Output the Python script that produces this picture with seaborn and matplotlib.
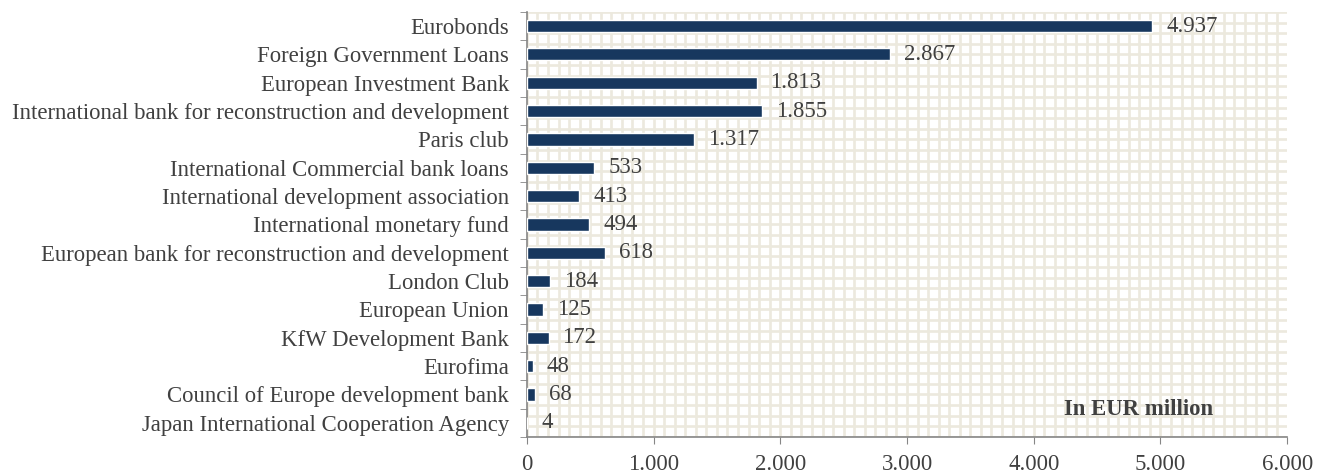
import numpy as np
import pandas as pd
import matplotlib
matplotlib.use("Agg")
import matplotlib.pyplot as plt
import seaborn as sns

# data (EUR million)
creditors = [
    "Eurobonds",
    "Foreign Government Loans",
    "European Investment Bank",
    "International bank for reconstruction and development",
    "Paris club",
    "International Commercial bank loans",
    "International development association",
    "International monetary fund",
    "European bank for reconstruction and development",
    "London Club",
    "European Union",
    "KfW Development Bank",
    "Eurofima",
    "Council of Europe development bank",
    "Japan International Cooperation Agency",
]
amounts = [4937, 2867, 1813, 1855, 1317, 533, 413, 494, 618, 184, 125, 172, 48, 68, 4]
x_ticks = [0, 1000, 2000, 3000, 4000, 5000, 6000]
x_tick_labels = ["0", "1.000", "2.000", "3.000", "4.000", "5.000", "6.000"]

df = pd.DataFrame({"creditor": creditors, "amount": amounts})

sns.set_style("white")
plt.rcParams["font.family"] = ["Liberation Serif", "DejaVu Serif"]
text_col = "#404040"
axis_col = "#868686"
bar_col = "#17375E"
grid_col = "#ECE9DE"
fs = 16.4

fig = plt.figure(figsize=(13.27, 4.75), dpi=100)
ax = fig.add_axes([0.397, 0.080, 0.573, 0.895])

sns.barplot(data=df, x="amount", y="creditor", orient="h", color=bar_col,
            width=0.43, saturation=1, ax=ax, zorder=3)

ax.set_xlim(0, 6000)
ax.set_ylim(len(creditors) - 0.5, -0.5)

# excel-like pattern background
for gx in np.arange(0, 6000, 1000 / 12):
    ax.axvline(gx, color=grid_col, lw=1.9, zorder=0)
for gy in np.arange(-0.5, len(creditors), 0.375):
    ax.axhline(gy, color=grid_col, lw=1.9, zorder=0)

# value labels with dot as thousands separator
labels = [f"{v:,}".replace(",", ".") for v in amounts]
ax.bar_label(ax.containers[0], labels=labels, padding=10, fontsize=fs, color=text_col)

ax.set_xticks(x_ticks)
ax.set_xticklabels(x_tick_labels)
ax.set_xlabel("")
ax.set_ylabel("")
ax.tick_params(axis="x", length=5, color=axis_col, labelsize=fs, labelcolor=text_col,
               direction="out", bottom=True, pad=7)
ax.tick_params(axis="y", which="major", length=0, labelsize=fs, labelcolor=text_col, pad=13)
ax.set_yticks(np.arange(-0.5, len(creditors), 1), minor=True)
ax.tick_params(axis="y", which="minor", length=5, color=axis_col, direction="out", left=True)

for s in ["top", "right"]:
    ax.spines[s].set_visible(False)
for s in ["left", "bottom"]:
    ax.spines[s].set_color(axis_col)
    ax.spines[s].set_linewidth(1.2)

ax.text(0.804, 0.064, "In EUR million", transform=ax.transAxes, ha="center", va="center",
        fontsize=fs, fontweight="bold", color=text_col, zorder=4)

fig.savefig("out.png", dpi=100)
